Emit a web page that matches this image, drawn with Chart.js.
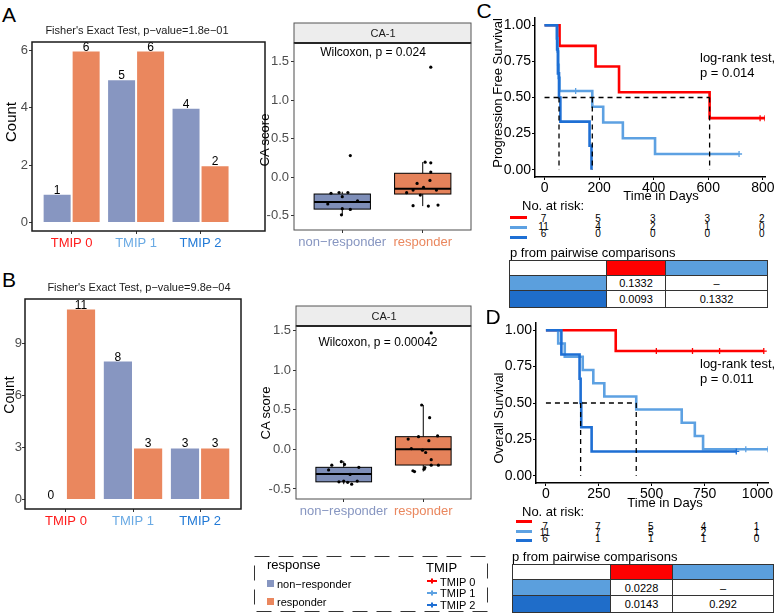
<!DOCTYPE html>
<html><head><meta charset="utf-8">
<script src="https://cdn.jsdelivr.net/npm/chart.js@4.4.1/dist/chart.umd.min.js"></script>
<style>
body{margin:0;width:777px;height:616px;position:relative;background:#fff;font-family:'Liberation Sans',Arial,sans-serif;overflow:hidden}
canvas{position:absolute}
.t{position:absolute;white-space:nowrap;line-height:1}
table.pw{position:absolute;border-collapse:collapse;font-size:11px}
table.pw td{border:1px solid #333;text-align:center;padding:0}
</style></head><body>
<script>
// ---------------- data ----------------
const tmipCats = ['TMIP 0', 'TMIP 1', 'TMIP 2'];
const barNonRespA = [1, 5, 4];
const barRespA = [6, 6, 2];
const barNonRespB = [0, 8, 3];
const barRespB = [11, 3, 3];
const barTicksA = [0, 2, 4, 6];
const barTicksB = [0, 3, 6, 9];

const respGroups = ['non\u2212responder', 'responder'];
const caTicks = [-0.5, 0, 0.5, 1, 1.5];
// CA scores (cohort A) and horizontal jitter
const caNonRespA = [0.28, -0.21, -0.20, -0.20, -0.255, -0.35, -0.31, -0.41, -0.42, -0.49];
const jitNonRespA = [0.10, -0.14, -0.04, 0.07, 0.00, -0.18, 0.19, 0.00, 0.10, -0.01];
const caRespA = [1.43, 0.195, 0.186, 0.065, -0.082, -0.043, -0.169, -0.203, -0.134, -0.169, -0.234, -0.372, -0.377, -0.364];
const jitRespA = [0.10, 0.03, 0.10, 0.10, -0.07, 0.09, -0.12, -0.20, 0.01, 0.17, -0.03, -0.12, 0.07, 0.19];
// box stats: [lower whisker, q1, median, q3, upper whisker]
const boxNonRespA = [-0.49, -0.416, -0.325, -0.22, -0.19];
const boxRespA = [-0.377, -0.22, -0.15, 0.05, 0.195];
// cohort B
const caNonRespB = [-0.20, -0.26, -0.156, -0.19, -0.227, -0.316, -0.40, -0.417, -0.44, -0.41, -0.40];
const jitNonRespB = [-0.15, -0.19, -0.03, 0.01, 0.19, 0.08, 0.00, 0.05, 0.10, -0.06, 0.17];
const caRespB = [0.56, 0.40, 0.17, 0.16, 0.13, 0.11, 0.01, -0.01, -0.04, -0.13, -0.20, -0.20, -0.23, -0.25, -0.27, -0.28, 1.47];
const jitRespB = [-0.02, 0.08, 0.18, -0.06, -0.19, 0.07, -0.15, -0.01, 0.03, 0.10, 0.10, 0.19, 0.02, 0.01, -0.13, -0.11, 0.10];
const boxNonRespB = [-0.44, -0.41, -0.312, -0.227, -0.15];
const boxRespB = [-0.28, -0.198, 0.0, 0.16, 0.56];

// Progression free survival (C)
const pfsT0 = [0, 55, 187, 273, 605, 808];
const pfsS0 = [1, 0.857, 0.714, 0.536, 0.357, 0.357];
const pfsCensT0 = [790, 808];
const pfsCensS0 = [0.357, 0.357];
const pfsT1 = [0, 45, 48, 50, 52, 55, 175, 215, 287, 405, 713];
const pfsS1 = [1, 0.909, 0.818, 0.727, 0.636, 0.545, 0.436, 0.327, 0.218, 0.109, 0.109];
const pfsCensT1 = [114, 713];
const pfsCensS1 = [0.545, 0.109];
const pfsT2 = [0, 46, 49, 53, 58, 165, 172];
const pfsS2 = [1, 0.833, 0.667, 0.5, 0.333, 0.167, 0];
const pfsMedians = [53, 175, 605];
const pfsTicks = [0, 200, 400, 600, 800];
const pfsRisk0 = [7, 5, 3, 3, 2];
const pfsRisk1 = [11, 4, 2, 1, 0];
const pfsRisk2 = [6, 0, 0, 0, 0];
const pfsPairs = [['0.1332', '\u2013'], ['0.0093', '0.1332']];

// Overall survival (D)
const osT0 = [0, 330, 1030];
const osS0 = [1, 0.857, 0.857];
const osCensT0 = [522, 693, 821, 1030];
const osCensS0 = [0.857, 0.857, 0.857, 0.857];
const osT1 = [0, 58, 89, 174, 224, 276, 427, 642, 704, 743, 1050];
const osS1 = [1, 0.909, 0.818, 0.727, 0.636, 0.545, 0.455, 0.364, 0.273, 0.182, 0.182];
const osCensT1 = [945, 1050];
const osCensS1 = [0.182, 0.182];
const osT2 = [0, 73, 159, 164, 167, 216, 900];
const osS2 = [1, 0.833, 0.667, 0.5, 0.333, 0.167, 0.167];
const osCensT2 = [900];
const osCensS2 = [0.167];
const osMedians = [164, 427];
const osTicks = [0, 250, 500, 750, 1000];
const osRisk0 = [7, 7, 5, 4, 1];
const osRisk1 = [11, 7, 5, 2, 1];
const osRisk2 = [6, 1, 1, 1, 0];
const osPairs = [['0.0228', '\u2013'], ['0.0143', '0.292']];
const survTicks = [0, 0.25, 0.5, 0.75, 1];

// ---------------- styles ----------------
const FONT = "'Liberation Sans', Arial, sans-serif";
const TMIP_COL = ['#FF0000', '#5DA1E2', '#1E6FD4'];
const TMIP_TXT = ['#FF1A1A', '#6AAAE4', '#2179D6'];
const CELL_COL = ['#FF0000', '#5B9FDD', '#1F6DC9'];
const RESP_COL = ['#8796C1', '#EA875E'];
const BOX_COL = ['#7E8EB8', '#E5825A'];

Chart.defaults.font.family = FONT;
Chart.defaults.animation = false;
Chart.defaults.responsive = false;
Chart.defaults.maintainAspectRatio = false;
Chart.defaults.devicePixelRatio = 1;
Chart.defaults.events = [];
Chart.defaults.plugins.legend.display = false;
Chart.defaults.plugins.tooltip.enabled = false;

function mkCanvas(r) {
  const c = document.createElement('canvas');
  c.width = r[2]; c.height = r[3];
  c.style.left = r[0] + 'px'; c.style.top = r[1] + 'px';
  c.style.width = r[2] + 'px'; c.style.height = r[3] + 'px';
  document.body.appendChild(c);
  return c;
}
function fixed(r, a) {
  return {
    padding: {left: 0, top: a[1] - r[1], right: r[0] + r[2] - a[2], bottom: 0},
    yFit: s => { s.width = a[0] - r[0]; s.paddingTop = 0; s.paddingBottom = 0; },
    xFit: s => { s.height = r[1] + r[3] - a[3]; s.paddingLeft = 0; s.paddingRight = 0; }
  };
}
function txt(s, x, y, o) {
  o = o || {};
  const d = document.createElement('div');
  d.className = 't'; d.textContent = s;
  d.style.left = x + 'px'; d.style.top = y + 'px';
  d.style.fontSize = (o.size || 13) + 'px';
  d.style.color = o.color || '#000';
  let tr = o.anchor === 'l' ? 'translate(0,-50%)' : 'translate(-50%,-50%)';
  if (o.rot) tr += ' rotate(-90deg)';
  d.style.transform = tr;
  document.body.appendChild(d);
  return d;
}
function box(x, y, w, h, bg) {
  const d = document.createElement('div');
  d.style.cssText = `position:absolute;left:${x}px;top:${y}px;width:${w}px;height:${h}px;background:${bg}`;
  document.body.appendChild(d);
}
function framePlugin(color, width) {
  return {id: 'frame', afterDraw(ch) {
    const {ctx, chartArea: a} = ch;
    ctx.save(); ctx.strokeStyle = color; ctx.lineWidth = width;
    ctx.strokeRect(a.left, a.top, a.right - a.left, a.bottom - a.top);
    ctx.restore();
  }};
}
const barLabelPlugin = {id: 'barLabels', afterDatasetsDraw(ch) {
  const ctx = ch.ctx;
  ctx.save(); ctx.font = '12px ' + FONT; ctx.fillStyle = '#000';
  ctx.textAlign = 'center'; ctx.textBaseline = 'alphabetic';
  ch.data.datasets.forEach((ds, di) => {
    ch.getDatasetMeta(di).data.forEach((el, i) => {
      ctx.fillText(String(ds.data[i].y), el.x, el.y);
    });
  });
  ctx.restore();
}};

// ---------------- bar charts ----------------
function barChart(r, a, xr, yr, yticks, nonResp, resp, tickPad) {
  const f = fixed(r, a);
  return new Chart(mkCanvas(r), {
    type: 'bar',
    data: {datasets: [
      {label: respGroups[0], data: nonResp.map((v, i) => ({x: i + 1, y: v})), backgroundColor: RESP_COL[0], borderColor: 'rgba(255,255,255,0.55)', borderWidth: 1},
      {label: respGroups[1], data: resp.map((v, i) => ({x: i + 1, y: v})), backgroundColor: RESP_COL[1], borderColor: 'rgba(255,255,255,0.55)', borderWidth: 1}
    ]},
    options: {
      layout: {padding: f.padding},
      datasets: {bar: {categoryPercentage: 0.9, barPercentage: 1.0}},
      scales: {
        x: {type: 'linear', min: xr[0], max: xr[1], offset: false, afterFit: f.xFit,
            afterBuildTicks: s => { s.ticks = [1, 2, 3].map(v => ({value: v})); },
            ticks: {callback: v => tmipCats[v - 1], color: c => TMIP_TXT[c.index], font: {size: 13}, padding: 2, autoSkip: false, maxRotation: 0},
            grid: {offset: false, drawOnChartArea: false, tickLength: 3, color: '#333'}, border: {display: false}},
        y: {min: yr[0], max: yr[1], afterFit: f.yFit,
            afterBuildTicks: s => { s.ticks = yticks.map(v => ({value: v})); },
            ticks: {callback: v => String(v), color: '#4D4D4D', font: {size: 13}, padding: tickPad},
            grid: {drawOnChartArea: false, tickLength: 3, color: '#333'}, border: {display: false}}
      }
    },
    plugins: [framePlugin('#1a1a1a', 1.5), barLabelPlugin]
  });
}
barChart([0, 34, 270, 226], [32, 42, 265, 231], [0.385, 4.0], [-0.3, 6.3], barTicksA, barNonRespA, barRespA, 1);
barChart([0, 292, 250, 238], [25, 299, 241, 509], [0.39, 3.61], [-0.55, 11.55], barTicksB, barNonRespB, barRespB, 0);

// ---------------- box plots ----------------
function boxChart(r, a, yr, nonVals, nonJit, respVals, respJit, stats) {
  const f = fixed(r, a);
  const boxes = {id: 'boxes', beforeDatasetsDraw(ch) {
    const {ctx, scales: {x, y}} = ch;
    ctx.save();
    stats.forEach((s, g) => {
      const cx = x.getPixelForValue(g + 1);
      const xl = x.getPixelForValue(g + 1 - 0.35), xr2 = x.getPixelForValue(g + 1 + 0.35);
      ctx.strokeStyle = '#000'; ctx.lineWidth = 1;
      ctx.beginPath();
      ctx.moveTo(cx, y.getPixelForValue(s[0])); ctx.lineTo(cx, y.getPixelForValue(s[1]));
      ctx.moveTo(cx, y.getPixelForValue(s[3])); ctx.lineTo(cx, y.getPixelForValue(s[4]));
      ctx.stroke();
      const yt = y.getPixelForValue(s[3]), yb = y.getPixelForValue(s[1]);
      ctx.fillStyle = BOX_COL[g];
      ctx.fillRect(xl, yt, xr2 - xl, yb - yt);
      ctx.strokeRect(xl, yt, xr2 - xl, yb - yt);
      ctx.lineWidth = 2;
      ctx.beginPath();
      const ym = y.getPixelForValue(s[2]);
      ctx.moveTo(xl, ym); ctx.lineTo(xr2, ym); ctx.stroke();
    });
    ctx.restore();
  }, afterDraw(ch) {
    const {ctx, chartArea: ca} = ch;
    ctx.save();
    ctx.fillStyle = '#EDEDED';
    ctx.fillRect(ca.left, ca.top - 20, ca.right - ca.left, 20);
    ctx.strokeStyle = '#555'; ctx.lineWidth = 1;
    ctx.strokeRect(ca.left, ca.top - 20, ca.right - ca.left, 20);
    ctx.strokeStyle = '#000'; ctx.lineWidth = 2;
    ctx.beginPath(); ctx.moveTo(ca.left, ca.top); ctx.lineTo(ca.right, ca.top); ctx.stroke();
    ctx.restore();
  }};
  return new Chart(mkCanvas(r), {
    type: 'scatter',
    data: {datasets: [
      {data: nonVals.map((v, i) => ({x: 1 + nonJit[i], y: v})), pointRadius: 1.6, backgroundColor: '#000', borderWidth: 0},
      {data: respVals.map((v, i) => ({x: 2 + respJit[i], y: v})), pointRadius: 1.6, backgroundColor: '#000', borderWidth: 0}
    ]},
    options: {
      layout: {padding: f.padding},
      scales: {
        x: {type: 'linear', min: 0.4, max: 2.6, afterFit: f.xFit,
            afterBuildTicks: s => { s.ticks = [1, 2].map(v => ({value: v})); },
            ticks: {callback: v => respGroups[v - 1], color: c => RESP_COL[c.index], font: {size: 13}, padding: 2, autoSkip: false, maxRotation: 0},
            grid: {drawOnChartArea: false, tickLength: 3, color: '#333'}, border: {display: false}},
        y: {min: yr[0], max: yr[1], afterFit: f.yFit,
            afterBuildTicks: s => { s.ticks = caTicks.map(v => ({value: v})); },
            ticks: {callback: v => v.toFixed(1), color: '#4D4D4D', font: {size: 13}, padding: 2},
            grid: {drawOnChartArea: false, tickLength: 3, color: '#333'}, border: {display: false}}
      }
    },
    plugins: [boxes, framePlugin('#4d4d4d', 1)]
  });
}
boxChart([262, 18, 214, 244], [294, 43, 471, 230], [-0.688, 1.745], caNonRespA, jitNonRespA, caRespA, jitRespA, [boxNonRespA, boxRespA]);
boxChart([262, 300, 214, 225], [296, 326, 471, 499], [-0.627, 1.558], caNonRespB, jitNonRespB, caRespB, jitRespB, [boxNonRespB, boxRespB]);

// ---------------- survival curves ----------------
function survChart(r, a, xr, xticks, curves, cens, medians) {
  const f = fixed(r, a);
  const ds = [];
  medians.forEach(m => ds.push({data: [{x: m, y: 0.5}, {x: m, y: 0}], borderColor: '#000', borderWidth: 1.3, borderDash: [5, 4], pointRadius: 0, order: 0}));
  ds.push({data: [{x: 0, y: 0.5}, {x: Math.max(...medians), y: 0.5}], borderColor: '#000', borderWidth: 1.3, borderDash: [5, 4], pointRadius: 0, order: 0});
  cens.forEach((c, g) => ds.push({data: c[0].map((t, i) => ({x: t, y: c[1][i]})), showLine: false, pointStyle: 'cross', pointRadius: 3, borderColor: TMIP_COL[g], borderWidth: 1.3, order: 1}));
  curves.forEach((c, g) => ds.push({data: c[0].map((t, i) => ({x: t, y: c[1][i]})), stepped: true, borderColor: TMIP_COL[g], borderWidth: 2.6, pointRadius: 0, fill: false, order: 4 - g}));
  return new Chart(mkCanvas(r), {
    type: 'line',
    data: {datasets: ds},
    options: {
      layout: {padding: f.padding},
      scales: {
        x: {type: 'linear', min: xr[0], max: xr[1], afterFit: f.xFit,
            afterBuildTicks: s => { s.ticks = xticks.map(v => ({value: v})); },
            ticks: {callback: v => String(v), color: '#000', font: {size: 14}, padding: 0, autoSkip: false, maxRotation: 0},
            grid: {drawOnChartArea: false, tickLength: 3, color: '#000'}, border: {display: true, color: '#000', width: 1.5}},
        y: {min: -0.05, max: 1.05, afterFit: f.yFit,
            afterBuildTicks: s => { s.ticks = survTicks.map(v => ({value: v})); },
            ticks: {callback: v => v.toFixed(2), color: '#000', font: {size: 14}, padding: 1},
            grid: {drawOnChartArea: false, tickLength: 3, color: '#000'}, border: {display: true, color: '#000', width: 1.5}}
      }
    }
  });
}
const chC = survChart([498, 0, 279, 205], [535, 18, 765, 177], [-35, 808], pfsTicks,
  [[pfsT0, pfsS0], [pfsT1, pfsS1], [pfsT2, pfsS2]], [[pfsCensT0, pfsCensS0], [pfsCensT1, pfsCensS1], [[], []]], pfsMedians);
const chD = survChart([498, 312, 279, 200], [536, 323, 768, 483], [-47, 1050], osTicks,
  [[osT0, osS0], [osT1, osS1], [osT2, osS2]], [[osCensT0, osCensS0], [osCensT1, osCensS1], [osCensT2, osCensS2]], osMedians);

// risk tables
function riskTable(ch, left, ticks, risks, rowsY, dashY, dashX) {
  risks.forEach((row, g) => {
    box(dashX[0], dashY[g] - 1.5, dashX[1] - dashX[0], 3, TMIP_COL[g]);
    row.forEach((n, i) => txt(String(n), left + ch.scales.x.getPixelForValue(ticks[i]) - 1, rowsY[g], {size: 10}));
  });
}
riskTable(chC, 498, pfsTicks, [pfsRisk0, pfsRisk1, pfsRisk2], [219, 226.5, 234], [217, 227, 237], [510, 527]);
riskTable(chD, 498, osTicks, [osRisk0, osRisk1, osRisk2], [527, 533, 539], [521, 531, 540], [516, 532]);

function pairTable(x, y, colW, rowH, vals) {
  const t = document.createElement('table');
  t.className = 'pw'; t.style.left = x + 'px'; t.style.top = y + 'px';
  const fills = [['#fff', CELL_COL[0], CELL_COL[1]], [CELL_COL[1], '#fff', '#fff'], [CELL_COL[2], '#fff', '#fff']];
  for (let r = 0; r < 3; r++) {
    const tr = document.createElement('tr');
    for (let c = 0; c < 3; c++) {
      const td = document.createElement('td');
      td.style.width = colW[c] + 'px'; td.style.height = rowH[r] + 'px';
      td.style.background = fills[r][c];
      if (r > 0 && c > 0) td.textContent = vals[r - 1][c - 1];
      tr.appendChild(td);
    }
    t.appendChild(tr);
  }
  document.body.appendChild(t);
}
pairTable(509, 260, [96, 58, 101], [14, 14, 16], pfsPairs);
pairTable(512, 564, [97, 61, 100], [14, 15, 16], osPairs);

// ---------------- texts ----------------
txt('A', 9, 14, {size: 21});
txt('B', 9, 279, {size: 21});
txt('C', 484, 10, {size: 21});
txt('D', 493, 316, {size: 21});
txt("Fisher's Exact Test, p\u2212value=1.8e\u221201", 137, 30, {size: 11, color: '#1a1a1a'});
txt("Fisher's Exact Test, p\u2212value=9.8e\u221204", 139, 287, {size: 11, color: '#1a1a1a'});
txt('Count', 10, 122, {size: 15, rot: true});
txt('Count', 9, 395, {size: 14, rot: true});
txt('CA score', 264, 140, {size: 13, rot: true});
txt('CA score', 265, 413, {size: 13, rot: true});
txt('CA-1', 383, 33, {size: 11, color: '#1a1a1a'});
txt('CA-1', 384, 316, {size: 11, color: '#1a1a1a'});
txt('Wilcoxon, p = 0.024', 373, 52, {size: 12});
txt('Wilcoxon, p = 0.00042', 378, 342, {size: 12});
txt('Progression Free Survival', 497, 93, {size: 13, rot: true});
txt('Overall Survival', 498, 418, {size: 13, rot: true});
txt('Time in Days', 661, 195, {size: 13});
txt('Time in Days', 665, 502, {size: 13});
txt('log-rank test,', 700, 57, {size: 13, anchor: 'l'});
txt('p = 0.014', 700, 72, {size: 13, anchor: 'l'});
txt('log-rank test,', 700, 363, {size: 13, anchor: 'l'});
txt('p = 0.011', 700, 378, {size: 13, anchor: 'l'});
txt('No. at risk:', 522, 205, {size: 13, anchor: 'l'});
txt('No. at risk:', 522, 511, {size: 13, anchor: 'l'});
txt('p from pairwise comparisons', 510, 252, {size: 13, anchor: 'l'});
txt('p from pairwise comparisons', 512, 556, {size: 13, anchor: 'l'});

// ---------------- legend ----------------
const svgNS = 'http://www.w3.org/2000/svg';
const svg = document.createElementNS(svgNS, 'svg');
svg.setAttribute('width', 777); svg.setAttribute('height', 616);
svg.style.cssText = 'position:absolute;left:0;top:0;pointer-events:none';
const rect = document.createElementNS(svgNS, 'rect');
rect.setAttribute('x', 254.5); rect.setAttribute('y', 556.5); rect.setAttribute('width', 233); rect.setAttribute('height', 55);
rect.setAttribute('fill', 'none'); rect.setAttribute('stroke', '#333'); rect.setAttribute('stroke-width', 1);
rect.setAttribute('stroke-dasharray', '15 9');
svg.appendChild(rect);
[581, 593, 605].forEach((yy, g) => {
  const l = document.createElementNS(svgNS, 'path');
  l.setAttribute('d', `M427 ${yy} H437 M432 ${yy - 2.5} V${yy + 2.5}`);
  l.setAttribute('stroke', TMIP_COL[g]); l.setAttribute('stroke-width', 2);
  svg.appendChild(l);
});
document.body.appendChild(svg);
txt('response', 267, 564, {size: 13, anchor: 'l'});
box(267, 580, 7, 7, RESP_COL[0]);
box(267, 598, 7, 7, RESP_COL[1]);
txt(respGroups[0], 277, 583.5, {size: 11, anchor: 'l'});
txt(respGroups[1], 277, 601.5, {size: 11, anchor: 'l'});
txt('TMIP', 426, 567, {size: 13, anchor: 'l'});
tmipCats.forEach((c, g) => txt(c, 440, [581.5, 593, 605][g], {size: 11, anchor: 'l'}));
</script>
</body></html>
